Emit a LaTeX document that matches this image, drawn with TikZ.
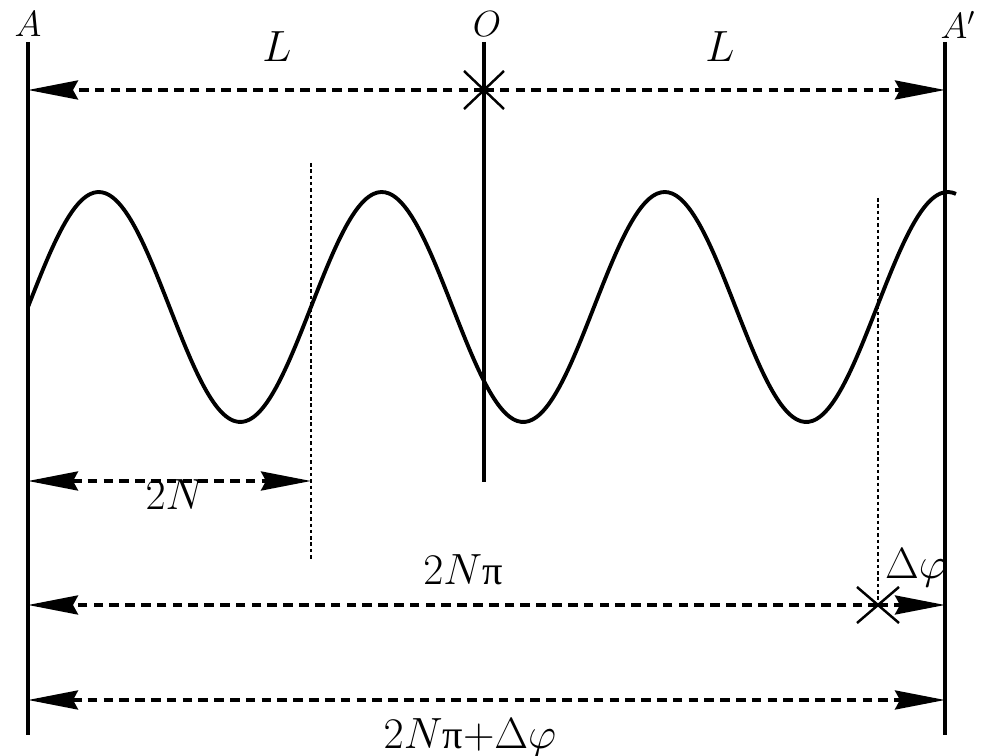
\documentclass[tikz,border=0pt]{standalone}
\usepackage{fontspec}
\newfontfamily\grk{Liberation Serif}
\usetikzlibrary{arrows.meta}

\tikzset{
  wall/.style={line width=2.4pt},
  wave/.style={line width=2.2pt},
  measure/.style={line width=2pt, dash pattern=on 5.5pt off 3.5pt},
  marker/.style={line width=1.2pt, dash pattern=on 2pt off 1.6pt},
  tip/.style={-{Stealth[length=10mm,width=3.8mm,inset=1mm]}},
  tips/.style={{Stealth[length=10mm,width=3.8mm,inset=1mm]}-{Stealth[length=10mm,width=3.8mm,inset=1mm]}},
  crossline/.style={line width=1.4pt},
  endlabel/.style={font=\fontsize{20.74}{25}\selectfont, inner sep=1pt},
  dimlabel/.style={font=\fontsize{23}{27}\selectfont}
}

\begin{document}
\begin{tikzpicture}[x=0.02cm,y=-0.02cm]
   \useasboundingbox (0,0) rectangle (992,756);

   \coordinate (Atop) at (28,42);
   \coordinate (Abot) at (28,735);
   \coordinate (Otop) at (484,42);
   \coordinate (Obot) at (484,482);
   \coordinate (Ptop) at (945,42);
   \coordinate (Pbot) at (945,735);
   \coordinate (Mtop) at (311,163);
   \coordinate (Mbot) at (311,560);
   \coordinate (Dtop) at (878,198);
   \coordinate (Dbot) at (878,605);

   % arrow ends
   \coordinate (LA) at (28,90);
   \coordinate (LO) at (484,90);
   \coordinate (LP) at (945,90);
   \coordinate (NA) at (28,481);
   \coordinate (NM) at (311,481);
   \coordinate (PA) at (28,605);
   \coordinate (PD) at (878,605);
   \coordinate (PP) at (945,605);
   \coordinate (SA) at (28,700);
   \coordinate (SP) at (945,700);

   \node (A) at (28,24) [endlabel] {$A$};
   \node (O) at (487,24) [endlabel] {$O$};
   \node (Aprime) at (958,25) [endlabel] {$A'$};
   \node (Lleft) at (277,47) [dimlabel] {$L$};
   \node (Lright) at (720,47) [dimlabel] {$L$};
   \node (TwoN) at (175,495) [dimlabel] {$2N$};
   \node (TwoNpi) at (463,570) [dimlabel] {$2N${\grk π}};
   \node (Dphi) at (916,568) [dimlabel] {$\Delta\varphi$};
   \node (Total) at (470,738) [dimlabel] {$2N${\grk π}$+\Delta\varphi$};

   \draw [wall] (Atop) -- (Abot);
   \draw [wall] (Otop) -- (Obot);
   \draw [wall] (Ptop) -- (Pbot);

   \draw [marker] (Mtop) -- (Mbot);
   \draw [marker] (Dtop) -- (Dbot);

   \draw [wave] plot [domain=28:956, samples=240, smooth] (\x, {307-115*sin(1.2721*(\x-28))});

   \draw [measure, tip] (LO) -- (LA);
   \draw [measure, tip] (LO) -- (LP);
   \draw [measure, tips] (NA) -- (NM);
   \draw [measure, tip] (PD) -- (PA);
   \draw [measure, tip] (PD) -- (PP);
   \draw [measure, tips] (SA) -- (SP);

   \draw [crossline] (LO) ++(-20,-19) -- ++(40,38);
   \draw [crossline] (LO) ++(-20,19) -- ++(40,-38);
   \draw [crossline] (PD) ++(-21,-18) -- ++(42,36);
   \draw [crossline] (PD) ++(-21,18) -- ++(42,-36);

\end{tikzpicture}
\end{document}
